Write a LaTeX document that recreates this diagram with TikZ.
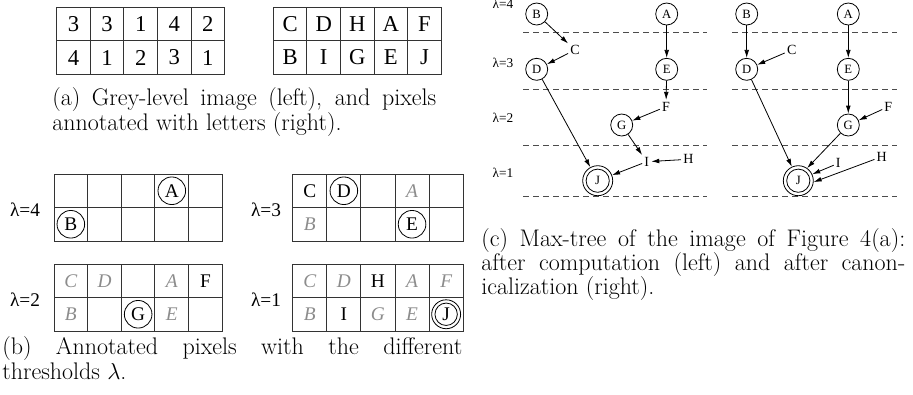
\documentclass[tikz,border=0pt]{standalone}
\usepackage{fontspec}
\newfontfamily\tms{Liberation Serif}
\usetikzlibrary{arrows.meta}
\begin{document}
\begin{tikzpicture}[x=0.75pt,y=-0.75pt,
  gline/.style={draw=black!80, line width=0.75pt},
  gtxt/.style={inner sep=0pt, font=\tms\fontsize{17}{17}\selectfont},
  btxt/.style={inner sep=0pt, font=\tms\fontsize{14.5}{14.5}\selectfont},
  gtl/.style={inner sep=0pt, text=black!45, font=\tms\itshape\fontsize{14.5}{14.5}\selectfont},
  bcirc/.style={btxt, circle, draw, line width=0.6pt, minimum size=20.7pt},
  lamb/.style={inner sep=0pt, font=\tms\fontsize{14.5}{14.5}\selectfont},
  lamc/.style={inner sep=0pt, font=\tms\fontsize{10}{10}\selectfont},
  tnode/.style={circle, draw, line width=0.6pt, minimum size=16.5pt, inner sep=0pt, font=\tms\fontsize{9.5}{9.5}\selectfont},
  jnode/.style={tnode, minimum size=22.5pt},
  tfree/.style={inner sep=1.5pt, font=\tms\fontsize{10.5}{10.5}\selectfont},
  arr/.style={-{Latex[length=6pt,width=3.6pt]}, line width=0.6pt},
  dline/.style={dash pattern=on 4.5pt off 3pt, draw=black!70, line width=0.7pt},
  capl/.style={inner sep=0pt, anchor=base west, font=\fontsize{18}{18}\selectfont}]
\useasboundingbox (0,0) rectangle (913,394);

% ---------- (a) ----------
\begin{scope}[shift={(56.7,7.3)}]
  \def\gw{33.6}
  \draw[gline] (0,0) rectangle ({5*\gw},67) (0,33.5) -- ({5*\gw},33.5);
  \foreach \k in {1,...,4} \draw[gline] ({\k*\gw},0) -- ({\k*\gw},67);
  \foreach \t [count=\i] in {3,3,1,4,2} \node[gtxt] (av1\i) at ({(\i-0.5)*\gw},16.75) {\t};
  \foreach \t [count=\i] in {4,1,2,3,1} \node[gtxt] (av2\i) at ({(\i-0.5)*\gw},50.25) {\t};
\end{scope}
\begin{scope}[shift={(273.3,7.3)}]
  \def\gw{33.6}
  \draw[gline] (0,0) rectangle ({5*\gw},67) (0,33.5) -- ({5*\gw},33.5);
  \foreach \k in {1,...,4} \draw[gline] ({\k*\gw},0) -- ({\k*\gw},67);
  \foreach \t [count=\i] in {C,D,H,A,F} \node[gtxt] (al1\i) at ({(\i-0.5)*\gw},16.75) {\t};
  \foreach \t [count=\i] in {B,I,G,E,J} \node[gtxt] (al2\i) at ({(\i-0.5)*\gw},50.25) {\t};
\end{scope}
\node[capl] (ca1) at (52,105) {\makebox[288pt][s]{(a) Grey-level image (left), and pixels}};
\node[capl] (ca2) at (52,130) {annotated with letters (right).};

% ---------- (b) ----------
\node[lamb] (l4) at (25,210) {λ=4};
\node[lamb] (l3) at (266,210) {λ=3};
\node[lamb] (l2) at (25,300) {λ=2};
\node[lamb] (l1) at (266,300) {λ=1};
% lambda = 4
\begin{scope}[shift={(54,174)}]
  \def\gw{33.66}
  \draw[gline] (0,0) rectangle ({5*\gw},67) (0,33.5) -- ({5*\gw},33.5);
  \foreach \k in {1,...,4} \draw[gline] ({\k*\gw},0) -- ({\k*\gw},67);
  \node[bcirc] (b4A) at ({3.5*\gw},16.75) {A};
  \node[bcirc] (b4B) at ({0.5*\gw},50.25) {B};
\end{scope}
% lambda = 3
\begin{scope}[shift={(292.7,174)}]
  \def\gw{34.1}
  \draw[gline] (0,0) rectangle ({5*\gw},67) (0,33.5) -- ({5*\gw},33.5);
  \foreach \k in {1,...,4} \draw[gline] ({\k*\gw},0) -- ({\k*\gw},67);
  \node[btxt] (b3C) at ({0.5*\gw},16.75) {C};
  \node[bcirc] (b3D) at ({1.5*\gw},16.75) {D};
  \node[gtl] (b3A) at ({3.5*\gw},16.75) {A};
  \node[gtl] (b3B) at ({0.5*\gw},50.25) {B};
  \node[bcirc] (b3E) at ({3.5*\gw},50.25) {E};
\end{scope}
% lambda = 2
\begin{scope}[shift={(54,264)}]
  \def\gw{33.66}
  \draw[gline] (0,0) rectangle ({5*\gw},67) (0,33.5) -- ({5*\gw},33.5);
  \foreach \k in {1,...,4} \draw[gline] ({\k*\gw},0) -- ({\k*\gw},67);
  \node[gtl] (b2C) at ({0.5*\gw},16.75) {C};
  \node[gtl] (b2D) at ({1.5*\gw},16.75) {D};
  \node[gtl] (b2A) at ({3.5*\gw},16.75) {A};
  \node[btxt] (b2F) at ({4.5*\gw},16.75) {F};
  \node[gtl] (b2B) at ({0.5*\gw},50.25) {B};
  \node[bcirc] (b2G) at ({2.5*\gw},50.25) {G};
  \node[gtl] (b2E) at ({3.5*\gw},50.25) {E};
\end{scope}
% lambda = 1
\begin{scope}[shift={(292.7,264)}]
  \def\gw{34.1}
  \draw[gline] (0,0) rectangle ({5*\gw},67) (0,33.5) -- ({5*\gw},33.5);
  \foreach \k in {1,...,4} \draw[gline] ({\k*\gw},0) -- ({\k*\gw},67);
  \node[gtl] (b1C) at ({0.5*\gw},16.75) {C};
  \node[gtl] (b1D) at ({1.5*\gw},16.75) {D};
  \node[btxt] (b1H) at ({2.5*\gw},16.75) {H};
  \node[gtl] (b1A) at ({3.5*\gw},16.75) {A};
  \node[gtl] (b1F) at ({4.5*\gw},16.75) {F};
  \node[gtl] (b1B) at ({0.5*\gw},50.25) {B};
  \node[btxt] (b1I) at ({1.5*\gw},50.25) {I};
  \node[gtl] (b1G) at ({2.5*\gw},50.25) {G};
  \node[gtl] (b1E) at ({3.5*\gw},50.25) {E};
  \node[bcirc, minimum size=21.7pt] (b1J) at ({4.5*\gw},50.25) {J};
  \draw[line width=0.6pt] (b1J.center) circle[radius=8.4pt];
\end{scope}
\node[capl] (cb1) at (2,354) {\makebox[345pt][s]{(b) Annotated pixels with the different}};
\node[capl] (cb2) at (2,379) {thresholds $\lambda$.};

% ---------- (c) ----------
\foreach \yy in {32.7,89.3,145.7,196.7} {
  \draw[dline] (523,\yy) -- (707,\yy);
  \draw[dline] (732,\yy) -- (897,\yy);
}
\node[lamc] (c4) at (503,4) {λ=4};
\node[lamc] (c3) at (503,63.3) {λ=3};
\node[lamc] (c2) at (503,118) {λ=2};
\node[lamc] (c1) at (503,173) {λ=1};

% left tree
\node[tnode] (lB) at (536.7,14) {B};
\node[tnode] (lA) at (666.7,14) {A};
\node[tfree] (lC) at (575,50) {C};
\node[tnode] (lD) at (536.7,69.3) {D};
\node[tnode] (lE) at (666.7,69.3) {E};
\node[tfree] (lF) at (666,106.7) {F};
\node[tnode] (lG) at (621.7,125) {G};
\node[tfree] (lI) at (646.7,161.7) {I};
\node[tfree] (lH) at (688.3,159.3) {H};
\node[jnode] (lJ) at (597.7,180.7) {J};
\draw[line width=0.6pt] (lJ.center) circle[radius=8.7pt];
\draw[arr] (lB) -- (lC);
\draw[arr] (lC) -- (lD);
\draw[arr] (lA) -- (lE);
\draw[arr] (lE) -- (lF);
\draw[arr] (lF) -- (lG);
\draw[arr] (lG) -- (lI);
\draw[arr] (lH) -- (lI);
\draw[arr] (lI) -- (lJ);
\draw[arr] (lD) -- (lJ);

% right tree
\node[tnode] (rB) at (746.7,14) {B};
\node[tnode] (rA) at (848.3,14) {A};
\node[tfree] (rC) at (791.7,50) {C};
\node[tnode] (rD) at (746.7,69.3) {D};
\node[tnode] (rE) at (848.3,69.3) {E};
\node[tfree] (rF) at (888.3,106.7) {F};
\node[tnode] (rG) at (848.3,125) {G};
\node[tfree] (rI) at (838.3,163.3) {I};
\node[tfree] (rH) at (881.7,156.7) {H};
\node[jnode] (rJ) at (798.3,180.7) {J};
\draw[line width=0.6pt] (rJ.center) circle[radius=8.7pt];
\draw[arr] (rB) -- (rD);
\draw[arr] (rC) -- (rD);
\draw[arr] (rA) -- (rE);
\draw[arr] (rE) -- (rG);
\draw[arr] (rF) -- (rG);
\draw[arr] (rG) -- (rJ.55);
\draw[arr] (rI) -- (rJ.25);
\draw[arr] (rH) -- (rJ.355);
\draw[arr] (rD) -- (rJ);

\node[capl] (cc1) at (481,246) {\makebox[318pt][s]{(c) Max-tree of the image of Figure 4(a):}};
\node[capl] (cc2) at (481,270) {\makebox[318pt][s]{after computation (left) and after canon-}};
\node[capl] (cc3) at (481,294) {icalization (right).};
\end{tikzpicture}
\end{document}
